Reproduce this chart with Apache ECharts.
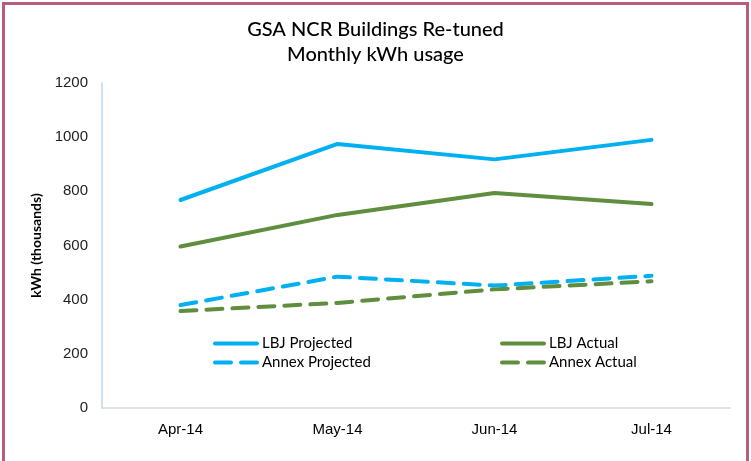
<!DOCTYPE html>
<html>
<head>
<meta charset="utf-8">
<script src="https://cdn.jsdelivr.net/npm/echarts@6/dist/echarts.min.js"></script>
<style>
  html, body { margin: 0; padding: 0; background: #fff; }
  #frame {
    position: absolute; left: 2px; top: 2px; width: 741px; height: 470px;
    border: 3px solid #b95c7c; border-bottom: none;
  }
  #chart { position: absolute; left: 0; top: 0; width: 751px; height: 461px; }
</style>
</head>
<body>
<div id="frame"></div>
<div id="chart"></div>
<script>
const months = ["Apr-14", "May-14", "Jun-14", "Jul-14"];
const lbjProjected = [768, 975, 918, 990];
const lbjActual = [596, 713, 794, 753];
const annexProjected = [380, 485, 452, 488];
const annexActual = [358, 388, 438, 468];

const blue = "#00b0f0";
const green = "#5e8e3e";
const dash = [16, 10];

let chart = echarts.init(document.getElementById("chart"));

function mkSeries(name, data, color, dashed) {
  return {
    name: name,
    type: "line",
    data: data,
    symbol: "none",
    color: color,
    lineStyle: {
      color: color,
      width: 4,
      type: dashed ? dash : "solid",
      cap: "round"
    }
  };
}

let legendText = { color: "#000", fontSize: 15, fontFamily: "Lato" };
let legendBase = {
  orient: "vertical",
  top: 331,
  itemWidth: 42,
  itemHeight: 10,
  itemGap: 4,
  itemStyle: { opacity: 0 },
  lineStyle: { width: 4, type: "inherit", cap: "round" },
  textStyle: legendText
};

let option = {
  animation: false,
  title: {
    text: "GSA NCR Buildings Re-tuned\nMonthly kWh usage",
    left: "center",
    top: 12,
    textStyle: {
      fontFamily: "Lato",
      fontWeight: 500,
      fontSize: 20,
      lineHeight: 25,
      color: "#000"
    }
  },
  legend: [
    Object.assign({}, legendBase, { data: ["LBJ Projected", "Annex Projected"], left: 208 }),
    Object.assign({}, legendBase, { data: ["LBJ Actual", "Annex Actual"], left: 495 })
  ],
  grid: {
    left: 102,
    right: 21,
    top: 83,
    bottom: 53
  },
  xAxis: {
    type: "category",
    data: months,
    boundaryGap: true,
    axisLine: { lineStyle: { color: "#d9d9d9", width: 1.5 } },
    axisTick: { show: false },
    axisLabel: {
      color: "#000",
      fontSize: 15,
      fontFamily: "Liberation Sans",
      margin: 14
    }
  },
  yAxis: {
    type: "value",
    min: 0,
    max: 1200,
    interval: 200,
    name: "kWh (thousands)",
    nameLocation: "middle",
    nameRotate: 90,
    nameGap: 56,
    nameTextStyle: {
      color: "#000",
      fontSize: 14,
      fontFamily: "Lato",
      fontWeight: "bold"
    },
    axisLine: { show: true, lineStyle: { color: "#bdd7ee", width: 1.5 } },
    axisTick: { show: false },
    splitLine: { show: false },
    axisLabel: {
      color: "#222",
      fontSize: 15,
      fontFamily: "Liberation Sans",
      margin: 14,
      formatter: (v) => String(v)
    }
  },
  series: [
    mkSeries("LBJ Projected", lbjProjected, blue, false),
    mkSeries("LBJ Actual", lbjActual, green, false),
    mkSeries("Annex Projected", annexProjected, blue, true),
    mkSeries("Annex Actual", annexActual, green, true)
  ]
};

chart.setOption(option);
window.addEventListener("resize", () => {
  chart.resize();
});
</script>
</body>
</html>
